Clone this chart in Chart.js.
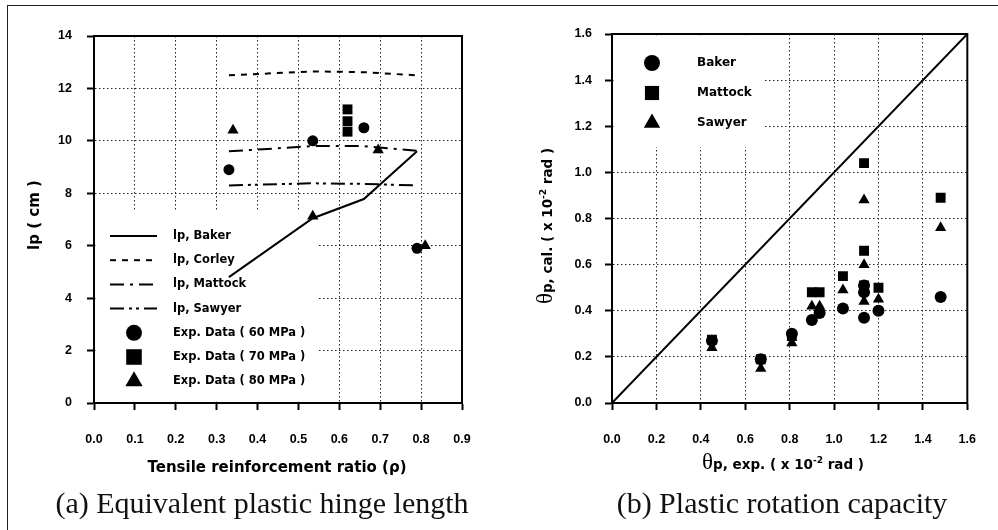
<!DOCTYPE html>
<html lang="en">
<head>
<meta charset="utf-8" />
<title>Plastic hinge length and rotation capacity</title>
<script src="https://cdn.jsdelivr.net/npm/chart.js@4.4.1/dist/chart.umd.min.js"></script>
<style>
  body { margin: 0; background: #fff; }
  #page { position: absolute; left: 0; top: 0; width: 998px; height: 530px; overflow: hidden; }
  #frame { position: absolute; left: 7px; top: 5px; width: 1000px; height: 540px;
           border-top: 1.5px solid #222; border-left: 1.5px solid #222; }
  canvas { position: absolute; top: 0; }
  #hinge { left: 0; }
  #rotation { left: 500px; }
  .caption { position: absolute; width: 500px; text-align: center; top: 486px;
             font: 30px/34px "Liberation Serif", "Times New Roman", serif; color: #111; }
</style>
</head>
<body>
<div id="page">
  <div id="frame"></div>
  <canvas id="hinge" width="500" height="530"></canvas>
  <canvas id="rotation" width="498" height="530"></canvas>
  <div class="caption" style="left:12px">(a) Equivalent plastic hinge length</div>
  <div class="caption" style="left:532px">(b) Plastic rotation capacity</div>
</div>
<script>
// ---- (a) equivalent plastic hinge length, lp (cm) vs tensile reinforcement ratio
const rhoModel = [0.33, 0.535, 0.66, 0.79];
const lpBaker = [4.8, 7.05, 7.78, 9.6];
const lpCorley = [12.5, 12.65, 12.62, 12.5];
const lpMattock = [9.6, 9.8, 9.8, 9.62];
const lpSawyer = [8.3, 8.38, 8.36, 8.3];

const rho60 = [0.33, 0.535, 0.66, 0.79];
const lp60 = [8.9, 10.0, 10.5, 5.9];
const rho70 = [0.62, 0.62, 0.62];
const lp70 = [11.2, 10.75, 10.35];
const rho80 = [0.34, 0.535, 0.695, 0.81];
const lp80 = [10.4, 7.12, 9.65, 6.0];

const hingeKeyLabels = ['lp, Baker', 'lp, Corley', 'lp, Mattock', 'lp, Sawyer',
  'Exp. Data ( 60 MPa )', 'Exp. Data ( 70 MPa )', 'Exp. Data ( 80 MPa )'];

// ---- (b) plastic rotation capacity, calculated vs experimental (x 10^-2 rad)
const thetaExp = [0.45, 0.67, 0.81, 0.90, 0.935, 1.04, 1.135, 1.135, 1.135, 1.20, 1.48];
const thetaBaker = [0.27, 0.19, 0.30, 0.36, 0.39, 0.41, 0.37, 0.48, 0.51, 0.40, 0.46];
const thetaMattock = [0.275, 0.19, 0.29, 0.48, 0.48, 0.55, 0.51, 0.66, 1.04, 0.50, 0.89];
const thetaSawyer = [0.24, 0.15, 0.26, 0.42, 0.42, 0.49, 0.44, 0.60, 0.88, 0.45, 0.76];
const equalX = [0, 1.6];
const equalY = [0, 1.6];

const rotationKeyLabels = ['Baker', 'Mattock', 'Sawyer'];

const SANS = '"Liberation Sans", Arial, sans-serif';
const WIDE = '"DejaVu Sans", Verdana, sans-serif';
const SERIF = '"Liberation Serif", "Times New Roman", serif';

function pts(xs, ys) {
  return xs.map((x, i) => ({ x: x, y: ys[i] }));
}

function lineSet(label, xs, ys, dash) {
  return { label: label, data: pts(xs, ys), showLine: true, borderColor: '#000',
    borderWidth: 2, borderDash: dash, pointRadius: 0, fill: false, tension: 0 };
}

function markSet(label, xs, ys, style, r) {
  return { label: label, data: pts(xs, ys), showLine: false, pointStyle: style,
    pointRadius: r, backgroundColor: '#000', borderColor: '#000', pointBorderWidth: 0 };
}

// write a title made of pieces in different fonts (theta, superscripts)
function drawRich(ctx, parts, cx, cy, angle) {
  ctx.save();
  ctx.translate(cx, cy);
  ctx.rotate(angle || 0);
  let w = 0;
  parts.forEach(p => { ctx.font = p.font; p.w = ctx.measureText(p.text).width; w += p.w; });
  let x = -w / 2;
  ctx.textBaseline = 'alphabetic';
  ctx.textAlign = 'left';
  ctx.fillStyle = '#000';
  parts.forEach(p => { ctx.font = p.font; ctx.fillText(p.text, x, p.dy || 0); x += p.w; });
  ctx.restore();
}

// white key box over the grid, plot frame, and the key entries
const keyPlugin = {
  id: 'key',
  beforeDatasetsDraw(chart, args, o) {
    const { ctx, chartArea: a, scales } = chart;
    ctx.save();
    const kx0 = a.left + 1.5;
    const kx1 = scales.x.getPixelForValue(o.xTo);
    const ky0 = Math.max(scales.y.getPixelForValue(o.yTop), a.top + 1.5);
    const ky1 = Math.min(scales.y.getPixelForValue(o.yBottom), a.bottom - 1.5);
    ctx.fillStyle = '#fff';
    ctx.fillRect(kx0, ky0, kx1 - kx0, ky1 - ky0);

    ctx.strokeStyle = '#000';
    ctx.lineWidth = 2;
    ctx.strokeRect(a.left, a.top, a.right - a.left, a.bottom - a.top);

    ctx.font = o.font;
    ctx.textBaseline = 'middle';
    ctx.textAlign = 'left';
    let row = 0;
    chart.data.datasets.forEach(ds => {
      if (ds.inKey === false) return;
      const ry = a.top + o.firstRow + row * o.rowGap;
      row++;
      if (ds.pointRadius === 0) {
        ctx.setLineDash(ds.borderDash || []);
        ctx.lineWidth = ds.borderWidth;
        ctx.strokeStyle = ds.borderColor;
        ctx.beginPath();
        ctx.moveTo(a.left + o.lineFrom, ry);
        ctx.lineTo(a.left + o.lineTo, ry);
        ctx.stroke();
        ctx.setLineDash([]);
      } else {
        ctx.fillStyle = '#000';
        Chart.helpers.drawPoint(ctx, { pointStyle: ds.pointStyle, rotation: 0,
          radius: o.markerRadius[ds.pointStyle], borderWidth: 0 }, a.left + o.markerX, ry);
      }
      ctx.fillStyle = '#000';
      ctx.fillText(ds.label, a.left + o.textX, ry);
    });
    ctx.restore();
  },
  afterDraw(chart, args, o) {
    (o.titles || []).forEach(t => drawRich(chart.ctx, t.parts, t.x, t.y, t.angle));
  }
};

function axis(min, max, step, digits, size, labelPad) {
  const horizontal = size.height !== undefined;
  return {
    type: 'linear', min: min, max: max,
    ticks: { stepSize: step, autoSkip: false, maxRotation: 0, padding: labelPad,
      color: '#000', font: { family: SANS, size: 12.5, weight: 'bold' },
      callback: v => v.toFixed(digits) },
    grid: { color: '#222', lineWidth: 1, drawTicks: true, tickLength: 7,
      tickColor: '#000', tickWidth: 2 },
    border: { display: true, color: '#000', width: 2, dash: [1.5, 2.5] },
    afterFit(scale) {
      if (horizontal) scale.height = size.height; else scale.width = size.width;
    }
  };
}

new Chart(document.getElementById('hinge'), {
  type: 'scatter',
  data: {
    datasets: [
      lineSet(hingeKeyLabels[0], rhoModel, lpBaker, []),
      lineSet(hingeKeyLabels[1], rhoModel, lpCorley, [6, 6]),
      lineSet(hingeKeyLabels[2], rhoModel, lpMattock, [14, 6, 3, 6]),
      lineSet(hingeKeyLabels[3], rhoModel, lpSawyer, [14, 5, 3, 4, 3, 5]),
      markSet(hingeKeyLabels[4], rho60, lp60, 'circle', 5.5),
      markSet(hingeKeyLabels[5], rho70, lp70, 'rect', 7),
      markSet(hingeKeyLabels[6], rho80, lp80, 'triangle', 6.5)
    ]
  },
  options: {
    responsive: false,
    animation: false,
    layout: { padding: { left: 0, top: 36, right: 38, bottom: 0 } },
    scales: {
      x: axis(0, 0.9, 0.1, 1, { height: 127 }, 22),
      y: axis(0, 14, 2, 0, { width: 94 }, 15)
    },
    plugins: {
      legend: { display: false },
      tooltip: { enabled: false },
      key: {
        xTo: 0.55, yTop: 7.3, yBottom: 0,
        font: 'bold 11.5px ' + WIDE,
        firstRow: 200, rowGap: 24.2,
        lineFrom: 16, lineTo: 63, markerX: 40, textX: 79,
        markerRadius: { circle: 8, rect: 11, triangle: 10 },
        titles: [
          { x: 277, y: 472, parts: [{ text: 'Tensile reinforcement ratio (ρ)', font: 'bold 15px ' + WIDE }] },
          { x: 39, y: 215, angle: -Math.PI / 2, parts: [{ text: 'lp ( cm )', font: 'bold 15px ' + WIDE }] }
        ]
      }
    }
  },
  plugins: [keyPlugin]
});

const thetaParts = (word, size) => [
  { text: 'θ', font: '23px ' + SERIF },
  { text: 'p, ' + word + ' ( x 10', font: 'bold ' + size + 'px ' + WIDE },
  { text: '-2', font: 'bold 9px ' + WIDE, dy: -6 },
  { text: ' rad )', font: 'bold ' + size + 'px ' + WIDE }
];

const eqLine = lineSet('', equalX, equalY, []);
eqLine.inKey = false;

new Chart(document.getElementById('rotation'), {
  type: 'scatter',
  data: {
    datasets: [
      markSet(rotationKeyLabels[0], thetaExp, thetaBaker, 'circle', 6),
      markSet(rotationKeyLabels[1], thetaExp, thetaMattock, 'rect', 7),
      markSet(rotationKeyLabels[2], thetaExp, thetaSawyer, 'triangle', 6.5),
      eqLine
    ]
  },
  options: {
    responsive: false,
    animation: false,
    layout: { padding: { left: 0, top: 34, right: 25, bottom: 0 } },
    scales: {
      x: axis(0, 1.6, 0.2, 1, { height: 127 }, 22),
      y: axis(0, 1.6, 0.2, 1, { width: 112 }, 13)
    },
    plugins: {
      legend: { display: false },
      tooltip: { enabled: false },
      key: {
        xTo: 0.68, yTop: 1.6, yBottom: 1.11,
        font: 'bold 12px ' + WIDE,
        firstRow: 29, rowGap: 30,
        lineFrom: 0, lineTo: 0, markerX: 40, textX: 85,
        markerRadius: { circle: 8, rect: 10, triangle: 9.5 },
        titles: [
          { x: 283, y: 469, parts: thetaParts('exp.', 13.5) },
          { x: 52, y: 226, angle: -Math.PI / 2, parts: thetaParts('cal.', 13.5) }
        ]
      }
    }
  },
  plugins: [keyPlugin]
});
</script>
</body>
</html>
